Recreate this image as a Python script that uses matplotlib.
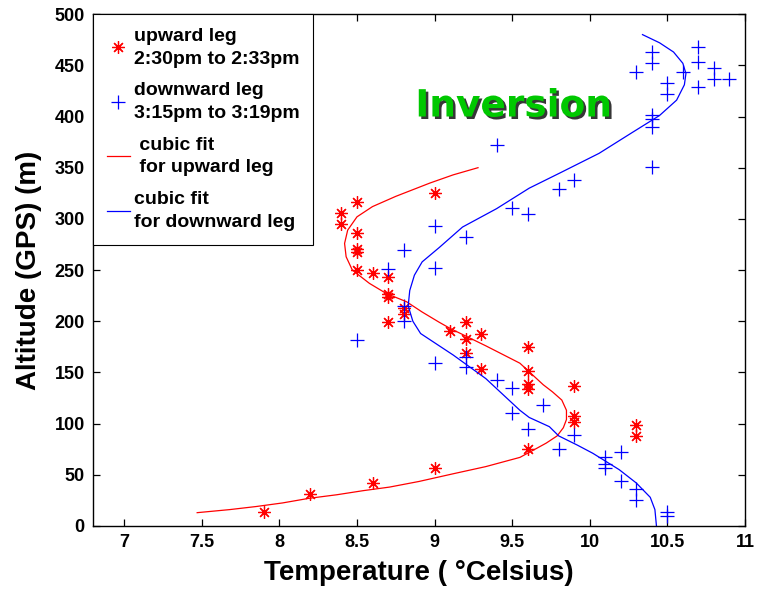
import matplotlib
matplotlib.use('Agg')
import matplotlib.pyplot as plt
import matplotlib.patheffects as pe

# upward leg, 2:30pm - 2:33pm (temperature C, GPS altitude m)
up_temp = [7.9, 8.2, 8.6, 9.0, 9.6, 10.3, 10.3, 9.9, 9.9, 9.9, 9.6, 9.6, 9.6, 9.6,
           9.3, 9.2, 9.2, 9.3, 9.1, 9.2, 8.7, 8.8, 8.8, 8.7, 8.7, 8.7, 8.6, 8.5,
           8.5, 8.5, 8.5, 8.4, 8.4, 8.5, 9.0]
up_alt = [14, 31, 42, 57, 75, 88, 99, 102, 107, 137, 134, 139, 151, 175,
          153, 169, 183, 188, 190, 199, 199, 207, 213, 224, 227, 243, 247, 250,
          268, 271, 286, 295, 306, 316, 325]

# downward leg, 3:15pm - 3:19pm
down_temp = [10.5, 10.5, 10.3, 10.3, 10.2, 10.1, 10.1, 10.1, 10.2, 9.8, 9.9, 9.6,
             9.5, 9.7, 9.5, 9.4, 9.2, 9.2, 9.0, 8.5, 8.8, 8.8, 8.7, 9.0, 8.8,
             9.2, 9.0, 9.6, 9.5, 9.8, 9.9, 10.4, 9.4, 10.4, 10.4, 10.4, 10.5,
             10.7, 10.5, 10.8, 10.9, 10.3, 10.6, 10.8, 10.4, 10.7, 10.4, 10.7]
down_alt = [10, 14, 25, 36, 44, 57, 61, 67, 72, 75, 89, 95,
            110, 118, 135, 143, 155, 165, 159, 182, 200, 215, 251, 252, 270,
            282, 293, 305, 311, 329, 338, 351, 372, 390, 398, 401, 422,
            429, 433, 437, 437, 443, 443, 447, 452, 453, 463, 468]

# cubic fit curves
up_fit_temp = [7.47, 7.68, 7.85, 8.02, 8.19, 8.37, 8.54, 8.71, 8.90, 9.12, 9.33,
               9.55, 9.66, 9.72, 9.79, 9.83, 9.85, 9.85, 9.82, 9.76, 9.70, 9.55,
               9.33, 9.10, 9.03, 8.92, 8.82, 8.69, 8.58, 8.47, 8.43, 8.42, 8.44,
               8.50, 8.60, 8.75, 8.97, 9.12, 9.28]
up_fit_alt = [13, 16, 19, 22.5, 27, 30.5, 34.5, 38, 43.5, 51, 58,
              67, 76, 81, 88, 96, 104, 113, 123, 131, 138, 159,
              176, 193, 199, 209, 219, 227, 237, 250, 263, 276, 289,
              302, 312, 322, 335, 343, 350]

down_fit_temp = [10.43, 10.42, 10.39, 10.30, 10.19, 10.02, 9.92, 9.80, 9.74, 9.61,
                 9.55, 9.33, 9.12, 8.91, 8.86, 8.83, 8.84, 8.87, 8.92, 9.03, 9.18,
                 9.40, 9.61, 9.81, 10.06, 10.27, 10.45, 10.56, 10.61, 10.62, 10.60,
                 10.54, 10.45, 10.34]
down_fit_alt = [0, 16, 28, 42, 55, 71, 79, 88, 97, 106,
                113, 144, 167, 188, 200, 215, 230, 245, 258, 272, 292,
                310, 330, 345, 364, 384, 401, 416, 431, 442, 452,
                463, 472, 480]

x_ticks = [7, 7.5, 8, 8.5, 9, 9.5, 10, 10.5, 11]
x_tick_labels = ['7', '7.5', '8', '8.5', '9', '9.5', '10', '10.5', '11']
y_ticks = [0, 50, 100, 150, 200, 250, 300, 350, 400, 450, 500]

plt.rcParams['font.family'] = ['Liberation Sans', 'DejaVu Sans']
plt.rcParams['font.weight'] = 'bold'

fig = plt.figure(figsize=(7.64, 5.89), dpi=100)
ax = fig.add_axes([0.122, 0.107, 0.853, 0.869])

star = (8, 2, 0)
h_up, = ax.plot(up_temp, up_alt, linestyle='none', marker=star, color='red',
                markersize=9, markeredgewidth=0.9)
h_down, = ax.plot(down_temp, down_alt, linestyle='none', marker='+', color='blue',
                  markersize=10, markeredgewidth=0.9)
h_upfit, = ax.plot(up_fit_temp, up_fit_alt, color='red', linewidth=0.9)
h_downfit, = ax.plot(down_fit_temp, down_fit_alt, color='blue', linewidth=0.9)

ax.set_xlim(6.8, 11)
ax.set_ylim(0, 500)
ax.set_xticks(x_ticks)
ax.set_xticklabels(x_tick_labels)
ax.set_yticks(y_ticks)
ax.tick_params(direction='in', top=True, right=True, length=5, width=0.9,
               labelsize=13, pad=6)
for s in ax.spines.values():
    s.set_linewidth(1.0)

ax.set_xlabel('Temperature ( \u00b0Celsius)', fontsize=20, fontweight='bold', labelpad=6)
ax.set_ylabel('Altitude (GPS) (m)', fontsize=20, fontweight='bold', labelpad=9)

ax.text(9.51, 400, 'Inversion', ha='center', va='baseline', fontsize=27,
        fontweight='bold', family='DejaVu Sans', color='#00c800',
        path_effects=[pe.SimplePatchShadow(offset=(1.8, -1.8), shadow_rgbFace='#202020', alpha=0.9),
                      pe.Normal()])

leg = ax.legend([h_up, h_down, h_upfit, h_downfit],
                ['upward leg\n2:30pm to 2:33pm', 'downward leg\n3:15pm to 3:19pm',
                 ' cubic fit\n for upward leg', 'cubic fit\nfor downward leg'],
                loc='upper left', bbox_to_anchor=(0, 1), borderaxespad=0,
                fancybox=False, framealpha=1, edgecolor='black',
                prop={'weight': 'bold', 'size': 14}, handlelength=1.2,
                handletextpad=0.2, labelspacing=0.75, borderpad=0.7)
for t in leg.get_texts():
    t.set_linespacing(1.45)
leg.get_frame().set_linewidth(0.8)

fig.savefig('out.png', dpi=100)
